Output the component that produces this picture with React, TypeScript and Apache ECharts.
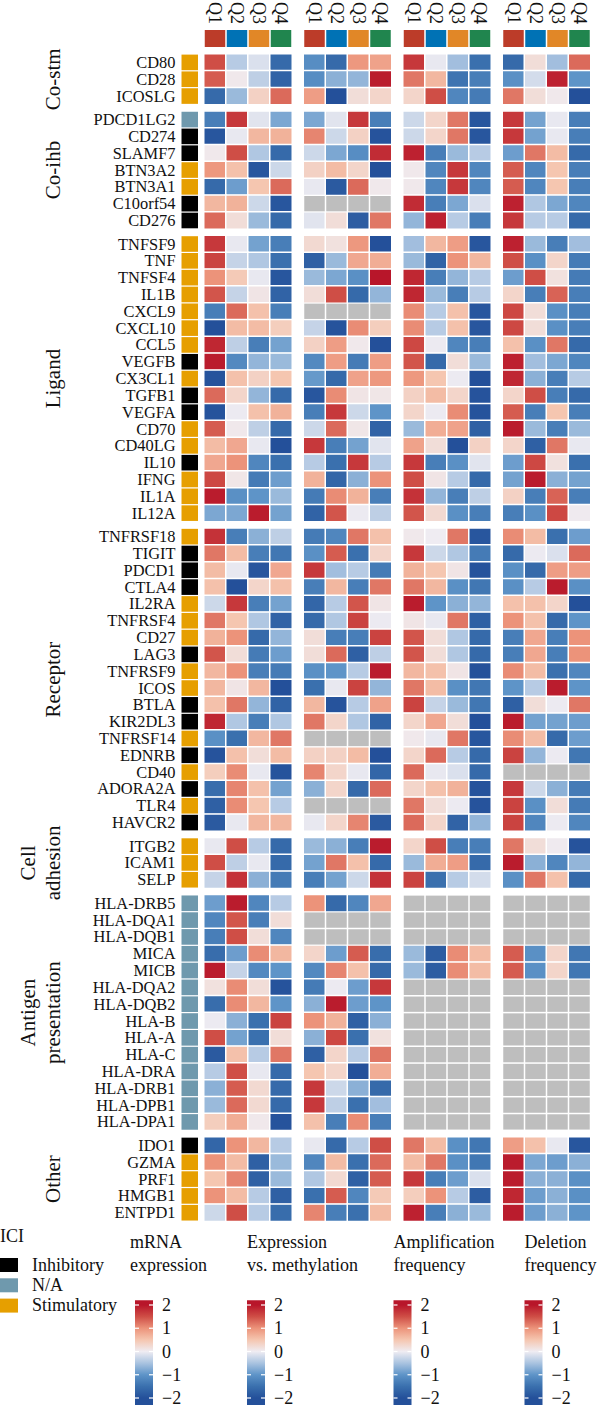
import React, { useEffect, useRef } from "react";
import * as echarts from "echarts";

// ---- data ----
const quarters = ["Q1", "Q2", "Q3", "Q4"];
const quarterColors = ["#BC3C29", "#0072B5", "#E18727", "#20854E"];

const groupLabels = ["Co-stm", "Co-ihb", "Ligand", "Receptor", "Cell\nadhesion", "Antigen\npresentation", "Other"];
const groupSizes = [3, 7, 17, 18, 3, 14, 5];

const genes = [
  "CD80", "CD28", "ICOSLG",
  "PDCD1LG2", "CD274", "SLAMF7", "BTN3A2", "BTN3A1", "C10orf54", "CD276",
  "TNFSF9", "TNF", "TNFSF4", "IL1B", "CXCL9", "CXCL10", "CCL5", "VEGFB", "CX3CL1", "TGFB1",
  "VEGFA", "CD70", "CD40LG", "IL10", "IFNG", "IL1A", "IL12A",
  "TNFRSF18", "TIGIT", "PDCD1", "CTLA4", "IL2RA", "TNFRSF4", "CD27", "LAG3", "TNFRSF9",
  "ICOS", "BTLA", "KIR2DL3", "TNFRSF14", "EDNRB", "CD40", "ADORA2A", "TLR4", "HAVCR2",
  "ITGB2", "ICAM1", "SELP",
  "HLA-DRB5", "HLA-DQA1", "HLA-DQB1", "MICA", "MICB", "HLA-DQA2", "HLA-DQB2", "HLA-B",
  "HLA-A", "HLA-C", "HLA-DRA", "HLA-DRB1", "HLA-DPB1", "HLA-DPA1",
  "IDO1", "GZMA", "PRF1", "HMGB1", "ENTPD1",
];

// I = Inhibitory, N = N/A, S = Stimulatory
const iciClass = (
  "SSS" + "NIISSII" + "SSSSSSSISIISSISSS" + "SIIISSSISSIISISISI" + "SSS" +
  "NNNNNNNNNNNNNN" + "ISSSS"
).split("");
const iciNames = ["Inhibitory", "N/A", "Stimulatory"];
const iciCodes = ["I", "N", "S"];
const iciColors = ["#000000", "#6F99AD", "#E69F00"];

type Row = number[] | null;

const mrnaExpression: Row[] = [
  [1.5, -0.4, -0.15, -1.6], [1.4, 0.05, -0.35, -1.7], [-1.6, -0.6, 0.35, 1.3],
  [-1.3, 1.7, -0.1, -0.8], [-1.9, -0.05, 0.65, 0.7], [0.05, 1.5, -0.45, -1.6], [0.95, 0.55, -1.9, -0.25],
  [-1.6, -0.9, 0.5, 1.3], [0.65, 0.7, -0.25, -1.9], [1.3, 0.2, -0.6, -1.6],
  [1.7, -0.05, -0.85, -1.3], [1.6, -0.3, -0.45, -1.5], [1.0, 0.45, -0.05, -1.9], [1.45, -0.3, 0.1, -1.7],
  [-1.3, 1.3, 0.55, -1.3], [-2, 0.6, 0.6, 0.4], [1.85, -0.35, -1.3, -0.85], [1.95, -1.15, -0.65, -0.6],
  [-1.95, 0.55, 0.35, 0.5], [1.3, 0.3, -0.65, -1.6], [-1.95, -0.02, 0.55, 0.7], [1.4, 0.05, -0.35, -1.6],
  [0.6, 0.8, -0.05, -2], [0.8, 1.0, -1.2, -1.5], [1.55, 0.08, -1.35, -0.9], [1.95, -1.05, -1.0, -0.6],
  [-0.8, -0.8, 1.95, -0.85],
  [1.75, -1.3, -0.7, -0.35], [1.2, 0.6, -1.3, -1.4], [0.6, -0.05, -1.9, 0.8], [0.55, -2, 0.3, 0.55],
  [-0.25, 1.7, -1.3, -0.85], [1.2, 0.5, -0.45, -1.7], [0.7, 1.0, -1.6, -0.65], [1.45, 0.2, -1.35, -0.9],
  [0.65, 1.0, -1.3, -1.35], [0.65, 0.1, 0.65, -2], [0.55, 1.2, -0.65, -1.7], [1.85, -0.45, -1.3, -0.45],
  [-1.05, -1.5, 0.65, 1.2], [-1.95, 0.55, 0.2, 0.6], [0.4, 1.05, -0.05, -1.95], [-1.55, 1.1, 0.55, -0.85],
  [-1.75, 1.05, 0.5, -0.4], [-1.85, -0.05, 0.65, 0.65],
  [-0.05, 1.5, -0.4, -1.6], [1.5, -0.35, -0.05, -1.6], [-0.3, 1.75, -0.7, -1.35],
  [-0.9, 1.95, -1.2, -0.4], [-1.2, 1.45, -1.3, 0.2], [-1.3, 1.5, 0.2, -1.2], [-1.55, -0.9, 1.05, 0.65],
  [1.95, -0.3, -1.15, -1.0], [0.15, 1.05, 0.2, -1.95], [-1.55, 1.05, 0.65, -1.0], [-0.02, -0.7, -1.5, 1.6],
  [1.5, -0.85, -1.5, 0.2], [-1.85, 0.55, -0.4, 1.2], [-0.4, 1.5, -0.05, -1.6], [-0.7, 1.4, 0.25, -1.6],
  [-0.6, 1.3, 0.25, -1.6], [0.4, 0.75, 0.05, -1.95],
  [-1.65, 1.0, 0.65, -0.4], [1.0, 0.6, -1.75, -0.6], [0.5, 1.1, -1.75, -0.6], [1.0, 0.6, -0.4, -1.75],
  [-0.25, 1.5, -0.4, -1.55],
];

const exprVsMethylation: Row[] = [
  [-1.1, -1.6, 0.95, 0.85], [-1.1, -0.7, -0.65, 1.95], [0.9, -2, 0.2, 0.3],
  [-0.8, -0.1, 1.7, -1.3], [1.1, -0.25, 0.35, -1.95], [-0.25, -0.8, -1.1, 1.8], [0.35, 0.6, 0.3, -2],
  [-0.05, -1.85, 1.3, 0.05], null, [-0.1, 0.2, -1.8, 1.2],
  [0.25, 0.15, 0.95, -2], [-1.75, -0.6, 0.8, 0.75], [-0.6, -0.8, -1.05, 2], [0.2, 1.5, -1.6, -0.65],
  null, [-0.3, -1.95, 1.05, 0.4], [0.35, 0.9, 0.05, -2], [-1.15, 0.9, -1.35, 0.9],
  [-0.95, -1.6, 0.85, 0.95], [-1.9, 1.05, 0.1, 0.08], [-1.3, 1.7, -0.25, -1.0], [-0.25, 1.3, 0.08, -1.7],
  [1.7, -1.3, -0.85, -0.1], [-0.4, -1.5, 1.7, -0.4], [0.7, -1.65, -0.7, 1.0], [-1.35, 1.05, 0.7, -1.3],
  [-1.7, 1.45, -0.02, -0.35],
  [-1.35, -1.2, 1.2, 0.55], [-1.05, 1.4, -1.5, 0.3], [1.7, -0.55, -0.4, -1.35], [-1.3, 0.65, -1.3, 1.2],
  [-1.65, -0.4, 1.45, 0.1], [-1.6, -0.45, 1.6, -0.02], [0.2, -1.3, -1.3, 1.6], [0.2, 1.3, -1.75, -0.35],
  [-1.05, -1.0, -0.4, 1.95], [-1.5, -0.05, 1.6, -0.65], [0.65, -1.95, -0.4, 0.85], [1.2, 0.3, -0.45, -1.7],
  null, [0.35, 0.35, 0.6, -2], [1.1, 0.3, -0.05, -1.65], [-0.7, 0.3, -1.6, 1.3],
  null, [-0.05, 0.3, 1.1, -1.85],
  [-0.6, -0.7, -1.3, 1.95], [-0.85, 1.2, 0.55, -1.6], [-1.3, -0.85, -0.25, 1.75],
  [1.0, -1.6, -1.2, 0.8], null, null, [0.3, -0.9, 1.4, -1.55],
  [-1.15, 1.1, 0.55, -1.6], [-1.35, -0.02, -0.9, 1.7], [-0.7, 1.95, -0.9, -1.0], [1.0, 0.7, -1.75, -0.7],
  [-0.7, 1.55, -1.5, 0.15], [-1.75, 0.3, -0.4, 1.2], [0.5, 0.3, -2, 0.75], [1.7, -0.25, -0.7, -1.6],
  [1.7, -0.35, -1.5, -0.55], [0.55, -1.3, 1.05, -1.3],
  [-0.05, -1.6, -0.4, 1.5], [-1.2, 0.6, -1.5, 1.3], [-0.45, 0.25, -1.75, 1.4], [-1.5, 1.4, -1.2, 0.45],
  [1.1, -1.3, -1.5, 0.6],
];

const amplificationFreq: Row[] = [
  [1.7, -0.05, -0.55, -1.5], [1.2, 0.65, -1.45, -1.3], [0.3, 1.5, -1.2, -1.35],
  [-0.25, 0.3, 1.2, -1.9], [-0.25, 0.3, 1.2, -1.9], [1.9, -1.3, -0.6, -0.4], [0.05, -1.2, 1.7, -1.2],
  [0.05, -1.2, 1.7, -1.2], [1.8, -1.3, -0.8, -0.15], [-0.65, 1.9, -0.4, -1.3],
  [-0.55, 0.65, 0.9, -1.9], [-0.6, -1.7, 1.0, 0.65], [1.85, -1.3, -0.65, -0.4], [1.85, -0.6, -1.3, -0.4],
  [1.05, -0.4, 0.55, -1.9], [1.05, -0.4, 0.55, -1.9], [1.55, -0.02, -1.2, -1.3], [1.45, -1.6, 0.2, -0.6],
  [0.95, 0.5, -0.02, -2], [0.35, 0.6, 0.3, -1.95], [0.3, -0.02, 1.05, -1.95], [-0.6, 0.75, 0.85, -1.75],
  [0.85, 0.2, -2, 0.35], [1.7, -1.3, -1.05, -0.1], [1.5, 0.1, -0.4, -1.6], [1.75, -0.65, -1.3, -0.35],
  [1.45, 0.25, -1.05, -1.3],
  [0.05, 0.0, 1.2, -1.9], [1.7, -0.25, -0.45, -1.35], [0.7, 0.5, 0.1, -1.95], [1.2, 0.65, -1.05, -1.4],
  [1.95, -1.0, -0.7, -0.65], [0.1, -0.05, 1.2, -1.75], [1.45, 0.2, -0.45, -1.6], [1.45, 0.2, -0.45, -1.6],
  [0.65, 0.55, 0.1, -2], [1.2, 0.6, -1.05, -1.4], [1.6, -0.3, -0.6, -1.4], [0.3, 0.8, 0.2, -2],
  [0.05, -0.05, 1.2, -1.9], [0.3, 1.3, -0.4, -1.6], [1.3, -0.05, -0.15, -1.6], [0.3, 0.55, 0.7, -1.95],
  [1.2, 0.2, -0.02, -1.95], [1.3, 0.3, -1.7, -0.65],
  [0.3, 1.5, -1.3, -1.3], [-0.6, 0.75, 0.9, -1.6], [1.6, -1.5, -0.4, -0.2],
  null, null, null, [-0.6, -1.8, 1.05, 0.6],
  [-0.6, -1.8, 1.05, 0.6], null, null, null,
  null, null, null, null,
  null, null,
  [1.2, 0.6, -1.05, -1.4], [0.6, 1.2, -1.05, -1.4], [1.7, -1.3, -0.9, -0.15], [0.4, 1.0, -0.4, -1.8],
  [1.9, -1.3, -0.7, -0.6],
];

const deletionFreq: Row[] = [
  [-1.6, 0.2, -0.55, 1.3], [-1.05, -0.2, 1.9, -1.0], [1.2, 0.2, 0.05, -2],
  [1.7, -0.85, -0.05, -1.3], [1.7, -0.85, -0.05, -1.3], [-0.9, 1.2, 0.6, -1.6], [1.4, -1.2, 0.5, -1.3],
  [1.4, -1.2, 0.5, -1.3], [1.9, -0.45, -0.8, -1.2], [1.7, -0.4, -0.4, -1.6],
  [1.9, -0.6, -1.3, -0.55], [1.5, -1.05, 0.3, -1.35], [-0.9, 1.5, 0.15, -1.35], [0.3, -1.3, 1.35, -1.3],
  [1.55, 0.2, -1.05, -1.3], [1.55, 0.2, -1.05, -1.3], [0.55, -1.05, 1.2, -1.6], [1.9, -0.55, -0.8, -1.2],
  [1.85, -0.7, -1.3, -0.4], [0.3, 1.5, -1.3, -1.6], [1.4, -1.3, 0.5, -1.3], [1.95, -0.6, -1.3, -0.6],
  [0.3, -1.75, 1.2, -0.05], [-0.9, 1.55, 0.15, -1.5], [-0.85, 1.95, -0.7, -0.85], [0.35, -1.3, 1.35, -1.3],
  [-1.3, -1.05, 1.55, 0.02],
  [1.05, 0.6, -1.5, -0.9], [-1.6, -0.02, -0.15, 1.3], [-1.05, -1.6, 0.9, 0.9], [-1.05, -0.4, 1.95, -1.05],
  [0.55, 0.55, 0.3, -2], [1.0, 0.55, -1.6, -1.0], [-1.3, 0.8, -1.3, 1.0], [-1.3, 0.8, -1.3, 1.0],
  [1.05, 0.6, -1.5, -1.2], [-1.0, -0.4, 1.95, -1.0], [-1.75, 0.2, -0.02, 1.2], [1.95, -0.85, -0.85, -0.9],
  [1.05, 0.6, -1.6, -0.9], [1.6, -0.65, -0.02, -1.4], null, [1.7, -0.25, -0.7, -1.35],
  [1.6, -1.05, 0.2, -1.35], [1.6, -1.2, -0.02, -1.2],
  [1.2, 0.2, 0.02, -1.95], [1.95, -0.7, -1.2, -0.65], [-1.05, 1.2, 0.55, -1.6],
  null, null, null, [1.4, -1.05, 0.3, -1.4],
  [1.4, -1.05, 0.3, -1.4], null, null, null,
  null, null, null, null,
  null, null,
  [0.9, 0.55, -0.05, -1.9], [1.95, -0.8, -0.9, -0.7], [1.95, -0.7, -0.7, -1.05], [1.85, -0.9, -0.7, -1.05],
  [1.95, -0.9, -0.7, -1.0],
];

const panelTitles = [
  ["mRNA", "expression"],
  ["Expression", "vs. methylation"],
  ["Amplification", "frequency"],
  ["Deletion", "frequency"],
];
const legendBreaks = [2, 1, 0, -1, -2];
const legendBreakLabels = ["2", "1", "0", "\u22121", "\u22122"];

// diverging ramp from -2 to 2 in steps of 0.5
const rampColors = ["#24509A", "#3A70AE", "#5E94C8", "#A9C3E0", "#EFECF2", "#F5C6B0", "#EC937A", "#CF4E46", "#B8162A"];
const naColor = "#BEBEBE";

// ---- layout ----
const FONT = "'Liberation Serif', 'DejaVu Serif', serif";
const TEXT = "#111111";
const ROWS_TOP = 54;
const PITCH = 16.82;
const GROUP_GAP = 6.7;
const PANEL_LEFT = [204, 303.5, 403, 502.5];
const PANEL_W = 88;
const ICI_LEFT = 181.5;
const ICI_W = 16.5;
const HEADER_TOP = 30;
const HEADER_H = 17;
const LEGEND_X = [135, 247, 393.5, 524.5];
const TITLE_X = [130, 247, 393.5, 524.5];
const BAR_W = 18;
const ZERO_Y = 1351.5;
const UNIT = 23.25;
const BAR_TOP_V = 2.2;
const BAR_BOT_V = -2.3;

function buildOption() {
  const grids: any[] = [];
  const xAxes: any[] = [];
  const yAxes: any[] = [];
  const series: any[] = [];
  const heatmapIdx: number[] = [];
  const graphics: any[] = [];
  const panels = [mrnaExpression, exprVsMethylation, amplificationFreq, deletionFreq];

  const addGrid = (left: number, top: number, width: number, height: number) => {
    grids.push({ left, top, width, height, containLabel: false, outerBoundsMode: "none" });
    return grids.length - 1;
  };

  const rectRenderer = (insetX: number, insetY: number, colorOf: (v: number) => string) =>
    (params: any, api: any) => {
      const p = api.coord([api.value(0), api.value(1)]);
      const s = api.size([1, 1]);
      return {
        type: "rect",
        shape: {
          x: p[0] - s[0] / 2 + insetX,
          y: p[1] - s[1] / 2 + insetY,
          width: s[0] - 2 * insetX,
          height: s[1] - 2 * insetY,
        },
        style: { fill: colorOf(api.value(2)) },
      };
    };

  // header squares + quarter labels
  PANEL_LEFT.forEach((left) => {
    const gi = addGrid(left, HEADER_TOP, PANEL_W, HEADER_H);
    xAxes.push({
      type: "category", gridIndex: gi, data: quarters, position: "top",
      axisLine: { show: false }, axisTick: { show: false }, splitLine: { show: false },
      axisLabel: { interval: 0, rotate: 90, margin: 6, fontSize: 18, fontFamily: FONT, color: TEXT },
    });
    yAxes.push({ type: "category", gridIndex: gi, data: [""], show: false });
    series.push({
      type: "custom", xAxisIndex: xAxes.length - 1, yAxisIndex: yAxes.length - 1, silent: true,
      data: quarters.map((_, i) => [i, 0, i]),
      renderItem: rectRenderer(0.75, 0, (v) => quarterColors[v]),
    });
  });

  let rowStart = 0;
  let top = ROWS_TOP;
  groupSizes.forEach((n, g) => {
    const h = n * PITCH;
    const gGenes = genes.slice(rowStart, rowStart + n);

    // ICI class column with gene names as axis labels
    const gi = addGrid(ICI_LEFT, top, ICI_W, h);
    xAxes.push({ type: "category", gridIndex: gi, data: ["ICI"], show: false });
    yAxes.push({
      type: "category", gridIndex: gi, data: gGenes, inverse: true,
      axisLine: { show: false }, axisTick: { show: false }, splitLine: { show: false },
      axisLabel: { interval: 0, margin: 6, fontSize: 16.4, lineHeight: 16, fontFamily: FONT, color: TEXT },
    });
    series.push({
      type: "custom", xAxisIndex: xAxes.length - 1, yAxisIndex: yAxes.length - 1, silent: true,
      data: gGenes.map((_, i) => [0, i, iciCodes.indexOf(iciClass[rowStart + i])]),
      renderItem: rectRenderer(0, 0.6, (v) => iciColors[v]),
    });

    panels.forEach((vals, p) => {
      const pg = addGrid(PANEL_LEFT[p], top, PANEL_W, h);
      xAxes.push({ type: "category", gridIndex: pg, data: quarters, show: false });
      yAxes.push({ type: "category", gridIndex: pg, data: gGenes, inverse: true, show: false });
      const xi = xAxes.length - 1;
      const yi = yAxes.length - 1;
      const cells: number[][] = [];
      const missing: number[][] = [];
      for (let r = 0; r < n; r++) {
        const row = vals[rowStart + r];
        for (let q = 0; q < 4; q++) {
          if (row === null) missing.push([q, r, 0]);
          else cells.push([q, r, row[q]]);
        }
      }
      heatmapIdx.push(series.length);
      series.push({
        type: "heatmap", xAxisIndex: xi, yAxisIndex: yi, data: cells, silent: true,
        itemStyle: { borderColor: "#ffffff", borderWidth: 1.5 },
      });
      if (missing.length) {
        series.push({
          type: "custom", xAxisIndex: xi, yAxisIndex: yi, silent: true, data: missing,
          renderItem: rectRenderer(0.75, 0.75, () => naColor),
        });
      }
    });

    // rotated group label
    const twoLines = groupLabels[g].includes("\n");
    graphics.push({
      type: "text", x: twoLines ? 40.5 : 53, y: top + h / 2, rotation: Math.PI / 2, silent: true,
      style: {
        text: groupLabels[g], fontSize: 21, fontFamily: FONT, fill: TEXT,
        align: "center", verticalAlign: "middle", lineHeight: 25,
      },
    });

    rowStart += n;
    top += h + GROUP_GAP;
  });

  // ICI legend
  graphics.push({
    type: "text", x: 0, y: 1236, silent: true,
    style: { text: "ICI", fontSize: 18, fontFamily: FONT, fill: TEXT, align: "left", verticalAlign: "middle" },
  });
  iciNames.forEach((name, i) => {
    const ky = 1258 + i * 20.3;
    graphics.push({ type: "rect", silent: true, shape: { x: 0, y: ky, width: 18, height: 14 }, style: { fill: iciColors[i] } });
    graphics.push({
      type: "text", x: 32, y: ky + 6.5, silent: true,
      style: { text: name, fontSize: 18, lineHeight: 19, fontFamily: FONT, fill: TEXT, align: "left", verticalAlign: "middle" },
    });
  });

  // colour bar legends
  const yOf = (v: number) => ZERO_Y - v * UNIT;
  const barTop = yOf(BAR_TOP_V);
  const barBot = yOf(BAR_BOT_V);
  const stops: any[] = [{ offset: 0, color: rampColors[8] }];
  for (let k = 8; k >= 0; k--) {
    const v = -2 + 0.5 * k;
    stops.push({ offset: (yOf(v) - barTop) / (barBot - barTop), color: rampColors[k] });
  }
  stops.push({ offset: 1, color: rampColors[0] });

  panelTitles.forEach((lines, p) => {
    const bx = LEGEND_X[p];
    lines.forEach((line, li) => {
      graphics.push({
        type: "text", x: TITLE_X[p], y: 1242 + li * 23, silent: true,
        style: { text: line, fontSize: 18, lineHeight: 21, fontFamily: FONT, fill: TEXT, align: "left", verticalAlign: "middle" },
      });
    });
    graphics.push({
      type: "rect", silent: true,
      shape: { x: bx, y: barTop, width: BAR_W, height: barBot - barTop },
      style: { fill: new echarts.graphic.LinearGradient(0, 0, 0, 1, stops) },
    });
    legendBreaks.forEach((b, i) => {
      const ty = yOf(b);
      graphics.push({ type: "line", silent: true, shape: { x1: bx, y1: ty, x2: bx + 4, y2: ty }, style: { stroke: "#ffffff", lineWidth: 1.2 } });
      graphics.push({ type: "line", silent: true, shape: { x1: bx + BAR_W - 4, y1: ty, x2: bx + BAR_W, y2: ty }, style: { stroke: "#ffffff", lineWidth: 1.2 } });
      graphics.push({
        type: "text", x: bx + BAR_W + 9, y: ty, silent: true,
        style: { text: legendBreakLabels[i], fontSize: 18, lineHeight: 20, fontFamily: FONT, fill: TEXT, align: "left", verticalAlign: "middle" },
      });
    });
  });

  return {
    animation: false,
    backgroundColor: "#ffffff",
    grid: grids,
    xAxis: xAxes,
    yAxis: yAxes,
    visualMap: {
      type: "continuous", show: false, min: -2, max: 2, seriesIndex: heatmapIdx, dimension: 2,
      inRange: { color: rampColors },
    },
    series,
    graphic: graphics,
  };
}

export default function App() {
  const ref = useRef<HTMLDivElement>(null);
  useEffect(() => {
    document.body.style.margin = "0";
    if (!ref.current) return;
    const chart = echarts.init(ref.current, null, { renderer: "svg" });
    chart.setOption(buildOption() as any);
    return () => chart.dispose();
  }, []);
  return <div ref={ref} style={{ width: 600, height: 1408 }} />;
}
